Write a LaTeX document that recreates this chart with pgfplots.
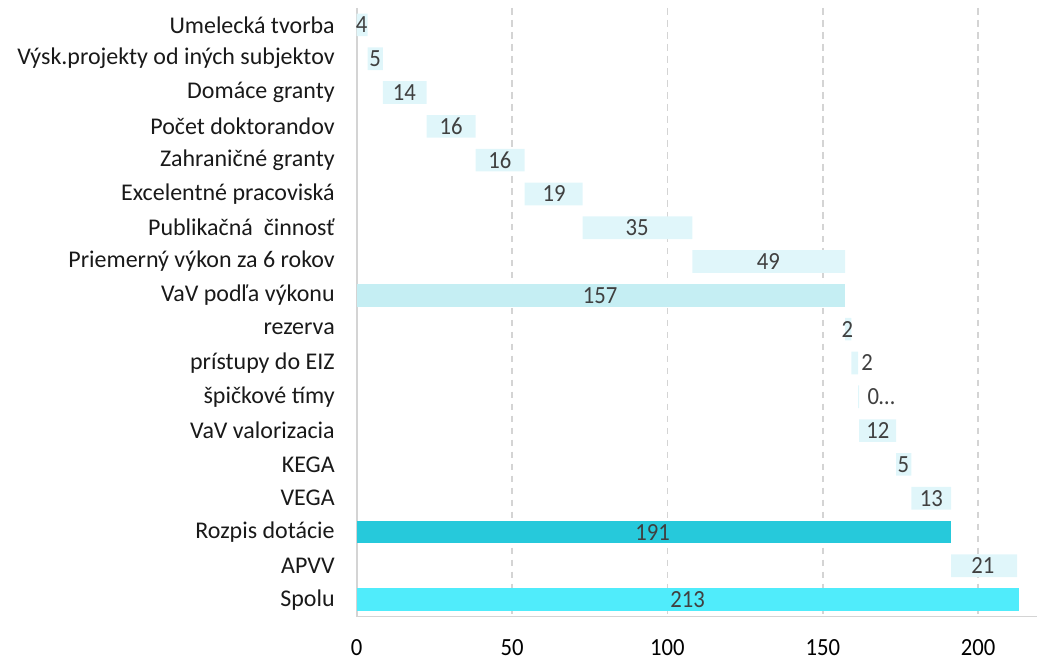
\documentclass[border=0pt]{standalone}
\usepackage{fontspec}
\setmainfont{Carlito}
\newfontfamily\numfont[FakeStretch=0.92]{Carlito}
\usepackage{pgfplots}
\usepackage{pgfplotstable}
\pgfplotsset{compat=1.18}

\definecolor{inc}{HTML}{E0F6FA}
\definecolor{vav}{HTML}{C5EEF3}
\definecolor{roz}{HTML}{26C9DB}
\definecolor{spolu}{HTML}{50ECFB}
\definecolor{lbl}{HTML}{404040}
\definecolor{gridc}{HTML}{D4D4D4}

% waterfall: invisible base + visible piece per row
\pgfplotstableread{
y  base   inc   vav    roz    spolu  lx     lab
0  0      3.5   0      0      0      1.6    4
1  3.5    4.9   0      0      0      5.9    5
2  8.4    14.1  0      0      0      15.3   14
3  22.5   15.8  0      0      0      30.4   16
4  38.3   15.7  0      0      0      46.1   16
5  54.0   18.7  0      0      0      63.5   19
6  72.7   35.3  0      0      0      90.2   35
7  108.0  49.2  0      0      0      132.5  49
8  0      0     157.2  0      0      78.3   157
9  157.2  2.0   0      0      0      157.9  2
10 159.2  2.2   0      0      0      164.3  2
11 161.4  0.3   0      0      0      168.8  0…
12 161.7  11.9  0      0      0      167.7  12
13 173.6  4.9   0      0      0      175.9  5
14 178.5  12.8  0      0      0      184.9  13
15 0      0     0      191.3  0      95.2   191
16 191.3  21.2  0      0      0      201.5  21
17 0      0     0      0      213.0  106.5  213
}\data

\pgfplotsset{
  common/.style={
    scale only axis, width=510.75pt, height=456.75pt,
    xmin=0, xmax=219, ymin=-0.5, ymax=17.5, y dir=reverse,
  },
}

\begin{document}
\begin{tikzpicture}
\begin{axis}[
    common, name=main,
    xbar stacked, bar width=0.67,
    ytick={0,...,17},
    yticklabels={Umelecká tvorba, Výsk.projekty od iných subjektov, Domáce granty,
      Počet doktorandov, Zahraničné granty, Excelentné pracoviská,
      {Publikačná\ \ činnosť}, Priemerný výkon za 6 rokov, VaV podľa výkonu,
      rezerva, prístupy do EIZ, špičkové tímy, VaV valorizacia, KEGA, VEGA,
      Rozpis dotácie, APVV, Spolu},
    xtick={0,50,100,150,200},
    major tick length=0pt,
    axis x line*=bottom, axis y line*=left,
    axis line style={-, draw=gridc, line width=1.2pt},
    xmajorgrids,
    grid style={gridc, line width=1.2pt, dash pattern=on 5pt off 4pt},
    yticklabel style={font=\fontsize{18}{21}\selectfont, text=black!90, xshift=-13pt},
    xticklabel style={font=\numfont\fontsize{18.5}{21}\selectfont, text=black,
      inner sep=1pt, anchor=north, yshift=-16pt},
    /pgf/number format/assume math mode=true,
]
\addplot[draw=none, fill=none] table[x=base, y=y] {\data};
\addplot[draw=none, fill=inc] table[x=inc, y=y] {\data};
\addplot[draw=none, fill=vav] table[x=vav, y=y] {\data};
\addplot[draw=none, fill=roz] table[x=roz, y=y] {\data};
\addplot[draw=none, fill=spolu] table[x=spolu, y=y] {\data};
\end{axis}
\begin{axis}[common, hide axis]
\addplot[draw=none, mark=none, nodes near coords, point meta=explicit symbolic,
    every node near coord/.style={font=\numfont\fontsize{18.5}{21}\selectfont,
      text=lbl, anchor=center}]
    table[x=lx, y=y, meta=lab] {\data};
\end{axis}
% page margins as in the reference
\path (main.south west) ++(-267.75pt,-33pt);
\path (main.north west) ++(0,6pt);
\end{tikzpicture}
\end{document}
